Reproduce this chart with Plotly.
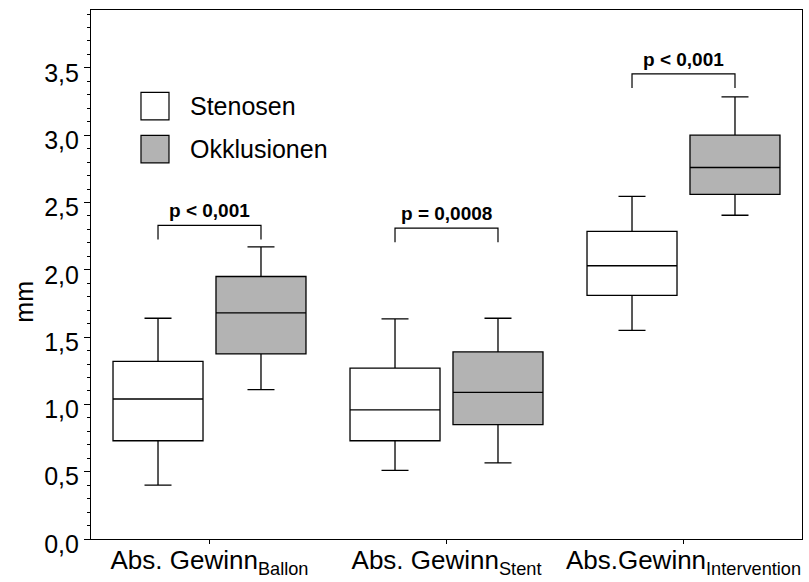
import plotly.graph_objects as go

# Gruppen auf der x-Achse
categories = ["Ballon", "Stent", "Intervention"]
tick_labels = [
    "Abs. Gewinn<sub>Ballon</sub>",
    "Abs. Gewinn<sub>Stent</sub>",
    "Abs.Gewinn<sub>Intervention</sub>",
]

# Boxplot-Kennwerte (mm) – Stenosen
sten_lower = [0.40, 0.51, 1.55]
sten_q1 = [0.73, 0.73, 1.81]
sten_median = [1.04, 0.96, 2.03]
sten_q3 = [1.32, 1.27, 2.285]
sten_upper = [1.64, 1.635, 2.545]

# Boxplot-Kennwerte (mm) – Okklusionen
okkl_lower = [1.11, 0.565, 2.405]
okkl_q1 = [1.375, 0.85, 2.56]
okkl_median = [1.68, 1.09, 2.76]
okkl_q3 = [1.95, 1.39, 3.0]
okkl_upper = [2.17, 1.64, 3.285]

# Signifikanzklammern
p_labels = ["p < 0,001", "p = 0,0008", "p < 0,001"]
bracket_top = [2.33, 2.31, 3.455]
bracket_drop = 0.105

FONT = "Liberation Sans, Arial, sans-serif"
BOXGAP = 0.131
BOXGROUPGAP = 0.126
positions = list(range(len(categories)))

fig = go.Figure()

def add_box(name, lower, q1, med, q3, upper, fill):
    fig.add_trace(go.Box(
        name=name,
        x=positions,
        q1=q1, median=med, q3=q3,
        lowerfence=lower, upperfence=upper,
        fillcolor=fill,
        line=dict(color="black", width=1.3),
        whiskerwidth=0.3,
        boxpoints=False,
        showlegend=False,
        hoverinfo="skip",
    ))

add_box("Stenosen", sten_lower, sten_q1, sten_median, sten_q3, sten_upper, "white")
add_box("Okklusionen", okkl_lower, okkl_q1, okkl_median, okkl_q3, okkl_upper, "#b3b3b3")

# Versatz der gruppierten Boxen gegenüber der Kategoriemitte
offset = 0.25 * (1 - BOXGAP)

shapes = []
annotations = []
for pos, top, label in zip(positions, bracket_top, p_labels):
    x0, x1 = pos - offset, pos + offset
    shapes.append(dict(
        type="path", xref="x", yref="y",
        path=f"M {x0},{top - bracket_drop} L {x0},{top} L {x1},{top} L {x1},{top - bracket_drop}",
        line=dict(color="black", width=1.2),
    ))
    annotations.append(dict(
        x=pos, y=top, xref="x", yref="y",
        text=f"<b>{label}</b>", showarrow=False,
        yanchor="bottom", yshift=2,
        font=dict(family=FONT, size=19, color="black"),
    ))

# Legende
legend_items = [("Stenosen", "white"), ("Okklusionen", "#b3b3b3")]
for i, (name, fill) in enumerate(legend_items):
    y_top = 0.8442 - i * 0.0812
    y_bot = y_top - 0.0519
    shapes.append(dict(
        type="rect", xref="paper", yref="paper",
        x0=0.0703, x1=0.1097, y0=y_bot, y1=y_top,
        fillcolor=fill, line=dict(color="black", width=1.2),
    ))
    annotations.append(dict(
        x=0.1364, y=(y_top + y_bot) / 2, xref="paper", yref="paper",
        text=name, showarrow=False, xanchor="left", yanchor="middle",
        font=dict(family=FONT, size=25, color="black"),
    ))

# y-Achsentitel
annotations.append(dict(
    x=-0.094, y=0.449, xref="paper", yref="paper",
    text="mm", textangle=-90, showarrow=False,
    xanchor="center", yanchor="middle",
    font=dict(family=FONT, size=25, color="black"),
))

fig.update_layout(
    width=809, height=582,
    margin=dict(l=91, r=7, t=10, b=43),
    paper_bgcolor="white", plot_bgcolor="white",
    separators=",.",
    boxmode="group", boxgap=BOXGAP, boxgroupgap=BOXGROUPGAP,
    font=dict(family=FONT, size=25, color="black"),
    shapes=shapes, annotations=annotations,
    showlegend=False,
)

fig.update_xaxes(
    range=[-0.5, 2.5], automargin=False,
    tickmode="array", tickvals=positions, ticktext=tick_labels,
    ticks="outside", ticklen=4, tickcolor="black", tickwidth=1,
    ticklabelstandoff=-6,
    showline=True, linecolor="black", linewidth=1.2, mirror=True,
    showgrid=False, zeroline=False,
    tickfont=dict(family=FONT, size=26, color="black"),
)

fig.update_yaxes(
    range=[0, 3.93], automargin=False,
    tick0=0, dtick=0.5, tickformat=".1f",
    ticks="outside", ticklen=6, tickcolor="black", tickwidth=1,
    ticklabelshift=5,
    minor=dict(tick0=0, dtick=0.1, ticks="outside", ticklen=3,
               tickcolor="black", tickwidth=1, showgrid=False),
    showline=True, linecolor="black", linewidth=1.2, mirror=True,
    showgrid=False, zeroline=False,
    tickfont=dict(family=FONT, size=25, color="black"),
)

fig.write_html("out.html")
